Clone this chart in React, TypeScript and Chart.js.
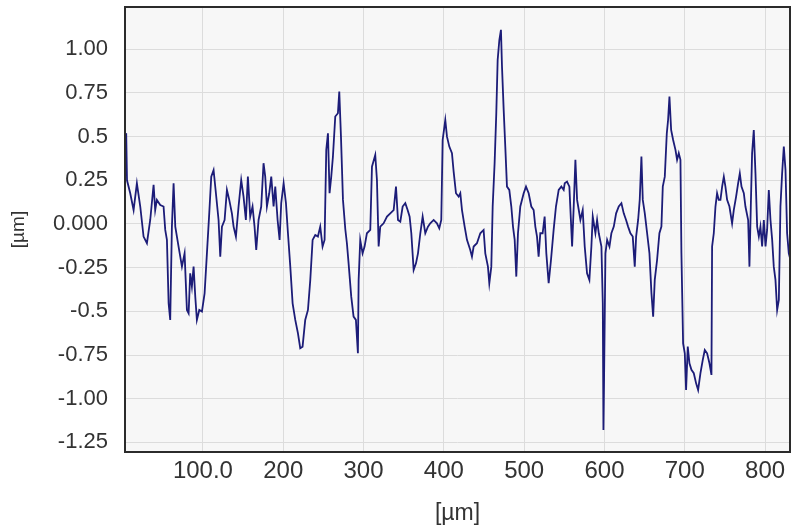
import { useEffect, useRef } from 'react';
import { Chart, registerables } from 'chart.js';

Chart.register(...registerables);

// Profile position along the scan (µm)
const positions: number[] = [
  3, 4.5, 5.5, 9.5, 13.7, 17.8, 22.0, 26.1, 30.3, 34.4, 38.6, 40.6, 42.7, 46.9, 51.0, 53.1, 55.2, 57.3, 59.3, 61.4,
  63.5, 65.6, 69.7, 73.9, 77.2, 80.1, 82.2, 84.2, 86.3, 88.4, 90.5, 92.5, 95.5, 98.8, 102.1, 105.0, 107.9, 110.4, 113.3, 116.2,
  119.5, 121.6, 123.7, 127.0, 129.9, 132.8, 136.1, 138.2, 141.1, 144.4, 147.7, 150.6, 153.5, 156.0, 158.9, 161.8, 164.3, 166.4, 169.3, 172.6,
  175.5, 177.6, 179.7, 182.6, 185.1, 188.0, 190.1, 193.0, 195.5, 197.5, 200.5, 203.4, 205.9, 208.8, 211.7, 215.0, 218.3, 221.2, 224.1, 227.4,
  230.8, 233.7, 236.6, 239.9, 243.2, 246.1, 249.0, 251.5, 253.6, 255.7, 257.7, 259.8, 261.9, 264.8, 268.1, 269.8, 271.9, 274.4, 277.3, 279.3,
  281.4, 284.7, 287.6, 290.5, 293.0, 293.9, 295.9, 298.8, 301.3, 304.2, 308.4, 310.5, 314.6, 316.7, 318.8, 320.8, 325.0, 329.2, 333.3, 337.5,
  340.4, 342.9, 345.8, 348.7, 352.0, 354.9, 357.4, 359.5, 362.4, 365.3, 367.8, 370.7, 373.6, 376.9, 380.2, 383.1, 387.3, 391.4, 394.3, 396.8,
  398.5, 401.8, 403.9, 406.8, 410.1, 412.2, 415.1, 418.4, 420.5, 422.6, 425.9, 428.8, 432.9, 435.0, 437.1, 441.2, 445.4, 449.5, 451.6, 454.9,
  456.6, 459.1, 460.8, 463.2, 465.3, 467.0, 469.1, 471.1, 472.4, 474.5, 476.5, 478.6, 481.5, 484.0, 486.1, 488.2, 490.2, 492.3, 495.2, 499.4,
  502.3, 505.6, 508.9, 511.8, 513.9, 516.0, 518.0, 520.1, 523.0, 525.5, 527.6, 530.5, 533.4, 536.7, 539.6, 543.0, 546.3, 549.2, 550.5, 553.4,
  556.3, 559.7, 561.7, 563.8, 565.9, 568.0, 570.0, 572.9, 575.4, 578.3, 581.2, 583.7, 585.4, 588.7, 590.8, 592.9, 596.2, 597.9, 598.7, 599.5,
  601.2, 603.3, 606.2, 608.6, 611.6, 614.5, 617.8, 621.1, 624.0, 626.9, 629.4, 632.3, 635.2, 637.7, 639.4, 641.9, 643.9, 646.0, 647.7, 650.2,
  653.1, 656.0, 658.5, 660.6, 662.6, 665.5, 668.4, 670.9, 672.6, 675.1, 677.6, 679.2, 680.9, 683.0, 685.5, 688.4, 690.4, 692.5, 694.6, 695.8,
  697.9, 700.0, 701.6, 703.7, 705.8, 708.3, 711.2, 714.1, 716.6, 719.5, 722.4, 724.9, 727.8, 730.7, 733.2, 734.0, 736.1, 738.2, 740.2, 742.3,
  744.4, 746.5, 748.6, 750.6, 752.7, 755.6, 758.9, 761.0, 763.9, 766.4, 768.5, 770.6, 773.5, 775.5, 778.9, 780.5, 782.2, 783.8, 785.9, 788.0,
  790.1, 792.2, 794.2, 796.3, 798.4, 800.5, 802.5, 804.6, 806.7, 808.8, 810.8, 812.9, 815.0, 817.1, 819.1, 821.2, 823.3, 825.4, 827.4, 829.5,
  831.6,
];

// Surface height (µm)
const heights: number[] = [
  0.30, 0.52, 0.25, 0.176, 0.080, 0.233, 0.100, -0.072, -0.110, 0.023, 0.224, 0.080, 0.138, 0.109, 0.100, -0.034, -0.091, -0.454, -0.549, -0.015,
  0.233, -0.015, -0.129, -0.244, -0.168, -0.492, -0.511, -0.282, -0.358, -0.244, -0.416, -0.549, -0.492, -0.501, -0.397, -0.168, 0.061, 0.271, 0.309, 0.176,
  0.023, -0.187, -0.015, 0.023, 0.195, 0.138, 0.061, -0.015, -0.072, 0.100, 0.252, 0.157, 0.023, 0.271, 0.042, 0.100, -0.015, -0.149, 0.023, 0.100,
  0.348, 0.271, 0.100, 0.176, 0.271, 0.100, 0.214, 0.023, -0.091, 0.119, 0.233, 0.119, -0.053, -0.244, -0.454, -0.549, -0.625, -0.711, -0.702, -0.549,
  -0.492, -0.320, -0.091, -0.063, -0.072, -0.015, -0.129, -0.091, 0.424, 0.519, 0.176, 0.271, 0.386, 0.615, 0.634, 0.758, 0.500, 0.138, -0.030, -0.110,
  -0.225, -0.416, -0.530, -0.549, -0.740, -0.320, -0.091, -0.168, -0.129, -0.053, -0.034, 0.328, 0.395, 0.252, -0.129, -0.015, 0.004, 0.042, 0.061, 0.080,
  0.214, 0.023, 0.013, 0.100, 0.119, 0.080, 0.042, -0.053, -0.263, -0.225, -0.168, -0.053, 0.042, -0.053, -0.015, 0.004, 0.023, 0.004, -0.025, 0.023,
  0.481, 0.595, 0.500, 0.443, 0.405, 0.300, 0.176, 0.157, 0.176, 0.080, -0.015, -0.091, -0.149, -0.187, -0.129, -0.110, -0.053, -0.034, -0.168, -0.244,
  -0.339, -0.244, 0.100, 0.348, 0.634, 0.939, 1.053, 1.111, 0.901, 0.653, 0.443, 0.214, 0.195, 0.100, -0.015, -0.091, -0.301, -0.053, 0.100, 0.176,
  0.214, 0.176, 0.100, 0.080, -0.015, -0.072, -0.187, -0.053, -0.053, 0.042, -0.168, -0.339, -0.206, -0.034, 0.100, 0.195, 0.214, 0.195, 0.233, 0.243,
  0.214, -0.129, 0.100, 0.367, 0.138, 0.080, 0.023, 0.080, -0.129, -0.282, -0.320, -0.129, 0.042, -0.053, 0.023, -0.053, -0.129, -0.454, -1.179, -0.883,
  -0.168, -0.091, -0.129, -0.053, -0.015, 0.061, 0.100, 0.119, 0.061, 0.023, -0.015, -0.053, -0.072, -0.244, -0.072, 0.023, 0.138, 0.386, 0.138, 0.061,
  -0.053, -0.168, -0.397, -0.530, -0.320, -0.206, -0.053, -0.015, 0.214, 0.271, 0.519, 0.595, 0.729, 0.538, 0.481, 0.424, 0.367, 0.405, 0.367, -0.168,
  -0.683, -0.740, -0.950, -0.702, -0.797, -0.835, -0.854, -0.912, -0.950, -0.854, -0.778, -0.721, -0.740, -0.797, -0.864, -0.129, -0.053, 0.100, 0.176, 0.138,
  0.138, 0.214, 0.271, 0.214, 0.138, 0.100, 0.004, 0.080, 0.157, 0.233, 0.290, 0.214, 0.176, 0.100, 0.023, -0.244, 0.100, 0.405, 0.538, 0.290,
  -0.015, -0.072, -0.015, -0.129, 0.023, -0.129, -0.034, 0.195, 0.023, -0.091, -0.244, -0.320, -0.492, -0.435, 0.100, 0.290, 0.443, 0.309, -0.053, -0.168,
  -0.206,
];

const xTickValues: number[] = [100, 200, 300, 400, 500, 600, 700, 800];
const xTickLabels: string[] = ['100.0', '200', '300', '400', '500', '600', '700', '800'];
const yTickValues: number[] = [1, 0.75, 0.5, 0.25, 0, -0.25, -0.5, -0.75, -1, -1.25];
const yTickLabels: string[] = ['1.00', '0.75', '0.5', '0.25', '0.000', '-0.25', '-0.5', '-0.75', '-1.00', '-1.25'];
const xAxisTitle = '[µm]';
const yAxisTitle = '[µm]';

const FONT = "'Liberation Sans', Arial, sans-serif";

const framePlugin = {
  id: 'frame',
  beforeDraw(chart: any) {
    const { ctx, chartArea } = chart;
    if (!chartArea) return;
    const { left, top, right, bottom } = chartArea;
    ctx.save();
    ctx.fillStyle = '#f7f7f7';
    ctx.fillRect(left, top, right - left, bottom - top);
    ctx.restore();
  },
  afterDraw(chart: any) {
    const { ctx, chartArea } = chart;
    if (!chartArea) return;
    const { left, top, right, bottom } = chartArea;
    ctx.save();
    ctx.strokeStyle = '#2b2b2b';
    ctx.lineWidth = 2;
    ctx.strokeRect(left, top, right - left, bottom - top);
    ctx.restore();
  },
};

export default function App() {
  const canvasRef = useRef<HTMLCanvasElement | null>(null);

  useEffect(() => {
    const canvas = canvasRef.current;
    if (!canvas) return;
    const points = positions.map((x, i) => ({ x, y: heights[i] }));
    const chart = new Chart(canvas, {
      type: 'line',
      data: {
        datasets: [
          {
            data: points,
            borderColor: '#1c1c78',
            borderWidth: 1.8,
            pointRadius: 0,
            tension: 0,
            fill: false,
          },
        ],
      },
      options: {
        animation: false,
        responsive: false,
        maintainAspectRatio: false,
        layout: { padding: { top: 7, right: 1, left: 0, bottom: 0 } },
        plugins: {
          legend: { display: false },
          tooltip: { enabled: false },
        },
        scales: {
          x: {
            type: 'linear',
            min: 3,
            max: 831,
            afterBuildTicks: (axis: any) => {
              axis.ticks = xTickValues.map((v) => ({ value: v }));
            },
            afterFit: (axis: any) => {
              axis.height = 77;
              axis.paddingLeft = 0;
              axis.paddingRight = 0;
            },
            grid: { color: '#dcdcdc', lineWidth: 1, drawTicks: false },
            border: { display: false },
            ticks: {
              padding: 5,
              color: '#333',
              font: { family: FONT, size: 24 },
              maxRotation: 0,
              autoSkip: false,
              callback: (value: any) => {
                const i = xTickValues.indexOf(Number(value));
                return i >= 0 ? xTickLabels[i] : '';
              },
            },
            title: {
              display: true,
              text: xAxisTitle,
              color: '#333',
              font: { family: FONT, size: 23 },
              padding: { top: 0, bottom: 2 },
            },
          },
          y: {
            type: 'linear',
            min: -1.305,
            max: 1.242,
            afterBuildTicks: (axis: any) => {
              axis.ticks = yTickValues.map((v) => ({ value: v }));
            },
            afterFit: (axis: any) => {
              axis.width = 125;
              axis.paddingTop = 0;
              axis.paddingBottom = 0;
            },
            grid: { color: '#dcdcdc', lineWidth: 1, drawTicks: false },
            border: { display: false },
            ticks: {
              padding: 17,
              color: '#333',
              font: { family: FONT, size: 22 },
              autoSkip: false,
              callback: (value: any) => {
                const i = yTickValues.indexOf(Number(value));
                return i >= 0 ? yTickLabels[i] : '';
              },
            },
            title: {
              display: true,
              text: yAxisTitle,
              color: '#333',
              font: { family: FONT, size: 19 },
              padding: { top: 7, bottom: 0 },
            },
          },
        },
      },
      plugins: [framePlugin],
    });
    return () => chart.destroy();
  }, []);

  return (
    <div style={{ position: 'absolute', left: 0, top: 0, width: 791, height: 529, background: '#fff' }}>
      <canvas ref={canvasRef} width={791} height={529} style={{ display: 'block', width: 791, height: 529 }} />
    </div>
  );
}
